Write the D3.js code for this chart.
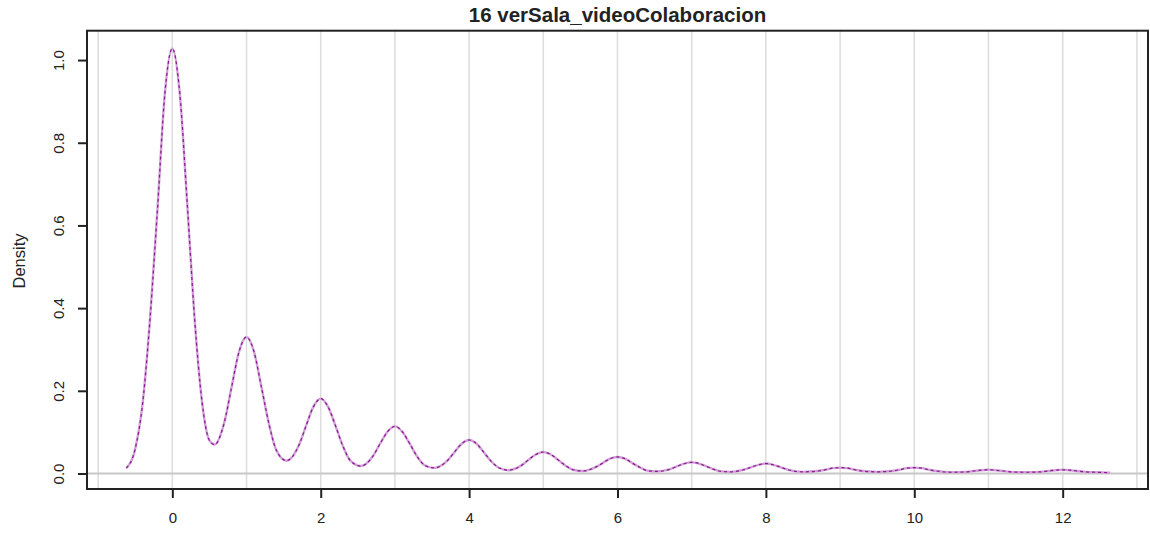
<!DOCTYPE html>
<html>
<head>
<meta charset="utf-8">
<script src="https://cdn.jsdelivr.net/npm/d3@7"></script>
<style>
  body { margin: 0; background: #fff; }
  text { font-family: "Liberation Sans", Arial, sans-serif; fill: #222; }
</style>
</head>
<body>
<div id="app"></div>
<script>
// density curve
const densX = [-0.62, -0.5, -0.4, -0.3, -0.2, -0.1, 0.0, 0.1, 0.2, 0.3, 0.4, 0.5, 0.57,
  0.7, 0.8, 0.9, 1.0, 1.1, 1.2, 1.3, 1.4, 1.54,
  1.7, 1.8, 1.9, 2.0, 2.1, 2.2, 2.3, 2.4, 2.54,
  2.7, 2.8, 2.9, 3.0, 3.1, 3.2, 3.3, 3.4, 3.53,
  3.7, 3.8, 3.9, 4.0, 4.1, 4.2, 4.3, 4.4, 4.53,
  4.7, 4.8, 4.9, 5.0, 5.1, 5.2, 5.3, 5.4, 5.53,
  5.7, 5.8, 5.9, 6.0, 6.1, 6.2, 6.3, 6.4, 6.53,
  6.7, 6.8, 6.9, 7.0, 7.1, 7.2, 7.3, 7.4, 7.53,
  7.7, 7.8, 7.9, 8.0, 8.1, 8.2, 8.3, 8.4, 8.5,
  8.7, 8.8, 8.9, 9.0, 9.1, 9.2, 9.3, 9.5,
  9.7, 9.8, 9.9, 10.0, 10.1, 10.2, 10.3, 10.5,
  10.7, 10.8, 10.9, 11.0, 11.1, 11.2, 11.3, 11.5,
  11.7, 11.8, 11.9, 12.0, 12.1, 12.2, 12.3, 12.45, 12.64];
const densY = [0.013, 0.06, 0.17, 0.375, 0.64, 0.92, 1.028, 0.92, 0.655, 0.375, 0.174, 0.08, 0.07,
  0.123, 0.21, 0.295, 0.33, 0.295, 0.21, 0.122, 0.057, 0.031,
  0.066, 0.114, 0.161, 0.181, 0.161, 0.115, 0.066, 0.031, 0.018,
  0.041, 0.072, 0.101, 0.114, 0.101, 0.072, 0.041, 0.02, 0.0135,
  0.03, 0.051, 0.072, 0.081, 0.072, 0.051, 0.029, 0.014, 0.008,
  0.019, 0.033, 0.046, 0.052, 0.046, 0.033, 0.019, 0.009, 0.006,
  0.015, 0.025, 0.036, 0.04, 0.036, 0.025, 0.015, 0.007, 0.005,
  0.01, 0.017, 0.024, 0.027, 0.024, 0.017, 0.01, 0.005, 0.004,
  0.009, 0.015, 0.021, 0.024, 0.021, 0.015, 0.009, 0.005, 0.004,
  0.006, 0.009, 0.013, 0.014, 0.013, 0.009, 0.006, 0.004,
  0.006, 0.009, 0.013, 0.014, 0.013, 0.009, 0.006, 0.003,
  0.004, 0.006, 0.008, 0.009, 0.008, 0.006, 0.004, 0.003,
  0.004, 0.006, 0.008, 0.009, 0.008, 0.006, 0.004, 0.003, 0.002];

const xTicks = [0, 2, 4, 6, 8, 10, 12];
const yTicks = [0, 0.2, 0.4, 0.6, 0.8, 1.0];
const gridX = [-1, 0, 1, 2, 3, 4, 5, 6, 7, 8, 9, 10, 11, 12, 13];
const title = "16 verSala_videoColaboracion";

const w = 1150, h = 533;
const padL = 87, padR = 1148, padT = 30.7, padB = 489;

const svg = d3.select("#app").append("svg")
  .attr("width", w)
  .attr("height", h);

const xScale = d3.scaleLinear().domain([-1.15, 13.15]).range([padL, padR]);
const yScale = d3.scaleLinear().domain([-0.0375, 1.071]).range([padB, padT]);

// grid
svg.append("g").selectAll("line")
  .data(gridX)
  .enter().append("line")
  .attr("x1", d => xScale(d)).attr("x2", d => xScale(d))
  .attr("y1", padT).attr("y2", padB)
  .attr("stroke", "#dcdcdc")
  .attr("stroke-width", 1.5);

svg.append("line")
  .attr("x1", padL).attr("x2", padR)
  .attr("y1", yScale(0)).attr("y2", yScale(0))
  .attr("stroke", "#c8c8c8")
  .attr("stroke-width", 2);

// curve
const pts = densX.map((x, i) => [x, densY[i]]);
const line = d3.line()
  .x(d => xScale(d[0]))
  .y(d => yScale(d[1]))
  .curve(d3.curveMonotoneX);

svg.append("path")
  .attr("d", line(pts))
  .attr("fill", "none")
  .attr("stroke", "#cfa2d4")
  .attr("stroke-width", 2.4);

svg.append("path")
  .attr("d", line(pts))
  .attr("fill", "none")
  .attr("stroke", "#8e1596")
  .attr("stroke-width", 1.2)
  .attr("stroke-dasharray", "3,3");

// box
svg.append("rect")
  .attr("x", padL).attr("y", padT)
  .attr("width", padR - padL).attr("height", padB - padT)
  .attr("fill", "none")
  .attr("stroke", "#222")
  .attr("stroke-width", 2);

// axes
const xAxis = d3.axisBottom(xScale)
  .tickValues(xTicks)
  .tickFormat(d3.format("d"))
  .tickSize(9)
  .tickPadding(14);

const yAxis = d3.axisLeft(yScale)
  .tickValues(yTicks)
  .tickFormat(d3.format(".1f"))
  .tickSize(9)
  .tickPadding(0);

const gx = svg.append("g")
  .attr("transform", "translate(0," + padB + ")")
  .call(xAxis);
gx.select(".domain").remove();
gx.selectAll("line").attr("stroke", "#222").attr("stroke-width", 2);
gx.selectAll("text").style("font-size", "15px").attr("fill", "#222");

const gy = svg.append("g")
  .attr("transform", "translate(" + padL + ",0)")
  .call(yAxis);
gy.select(".domain").remove();
gy.selectAll("line").attr("stroke", "#222").attr("stroke-width", 2);
gy.selectAll("text")
  .style("font-size", "15px")
  .attr("fill", "#222")
  .attr("x", 0).attr("dy", 0)
  .attr("transform", "translate(-29,0) rotate(-90)")
  .attr("text-anchor", "middle")
  .attr("dominant-baseline", "central");

// labels
svg.append("text")
  .attr("x", (padL + padR) / 2)
  .attr("y", 22)
  .attr("text-anchor", "middle")
  .style("font-size", "20.5px")
  .style("font-weight", "bold")
  .text(title);

svg.append("text")
  .attr("transform", "translate(19,261) rotate(-90)")
  .attr("text-anchor", "middle")
  .attr("dominant-baseline", "central")
  .style("font-size", "16.5px")
  .text("Density");
</script>
</body>
</html>
